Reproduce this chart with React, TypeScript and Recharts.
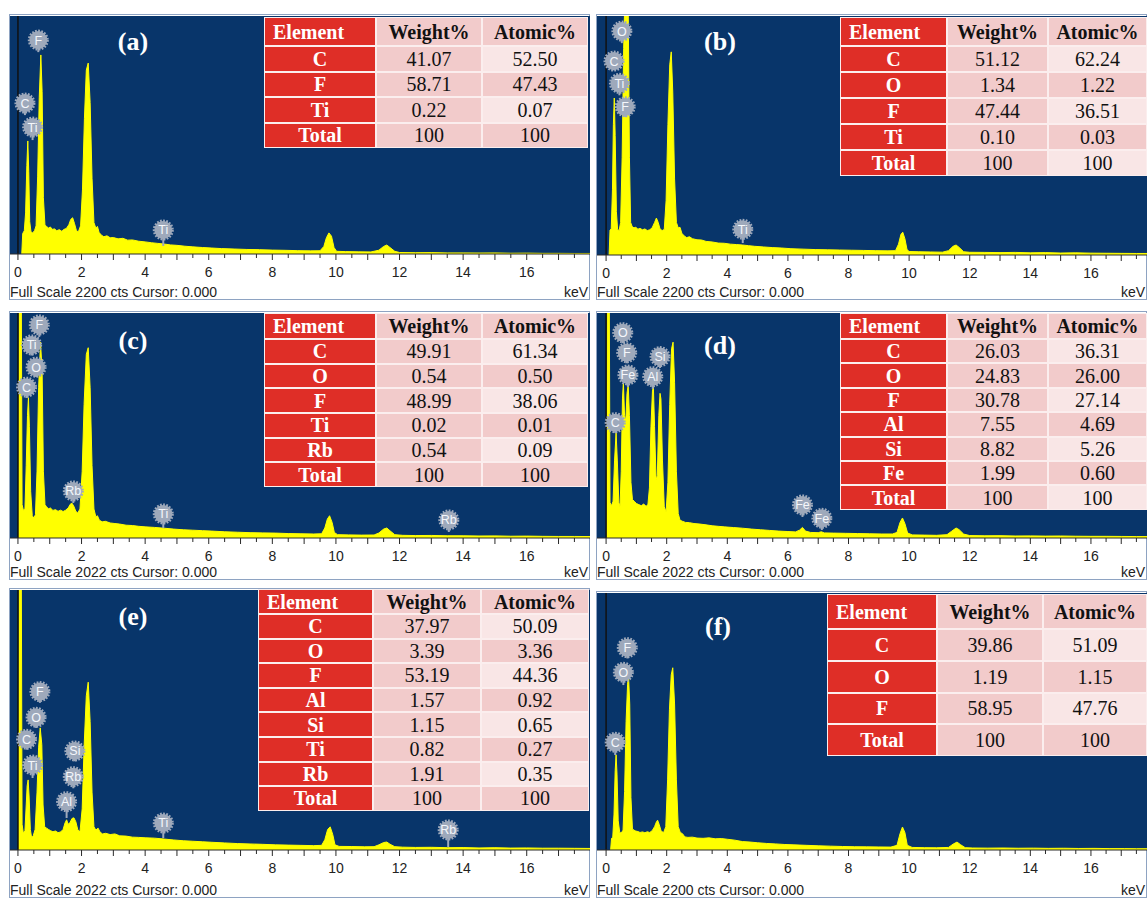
import React from "react";
import { AreaChart, Area, XAxis, YAxis, CartesianGrid, ReferenceLine, ReferenceDot } from "recharts";

// colours picked off the EDS screenshots
const PLOT_BG = "#08356a";
const SPECTRUM = "#ffff00";
const MARKER = "#9ea9bb";
const RED = "#df2e27";
const PINK = "#f2cbcb";
const PINK_LIGHT = "#f9e6e6";
const SANS = "'Liberation Sans', Arial, sans-serif";
const SERIF = "'Liberation Serif', 'Times New Roman', serif";

// energy axis (keV)
const MINOR_TICKS = [0, 0.5, 1, 1.5, 2, 2.5, 3, 3.5, 4, 4.5, 5, 5.5, 6, 6.5, 7, 7.5, 8, 8.5, 9, 9.5, 10, 10.5, 11, 11.5, 12, 12.5, 13, 13.5, 14, 14.5, 15, 15.5, 16, 16.5, 17, 17.5];
const TICK_LABELS = [0, 2, 4, 6, 8, 10, 12, 14, 16];

// spectra: [keV, counts]
const SPEC_A = [
  [0.12, 0], [0.15, 190], [0.2, 215], [0.24, 380], [0.28, 820], [0.31, 1045], [0.34, 760], [0.37, 300], [0.41, 205], [0.46, 195],
  [0.52, 215], [0.57, 260], [0.62, 720], [0.67, 1450], [0.72, 1840], [0.76, 1500], [0.8, 520], [0.85, 265], [0.9, 255], [0.96, 240],
  [1.02, 250], [1.08, 228], [1.15, 232], [1.22, 215], [1.3, 225], [1.38, 210], [1.45, 228], [1.52, 235], [1.6, 270], [1.66, 320],
  [1.72, 335], [1.78, 280], [1.84, 215], [1.9, 205], [1.97, 260], [2.03, 600], [2.09, 1250], [2.15, 1700], [2.21, 1765], [2.27, 1400],
  [2.33, 700], [2.39, 290], [2.45, 240], [2.5, 255], [2.55, 200], [2.62, 175], [2.7, 160], [2.8, 168], [2.9, 150], [3.0, 152],
  [3.15, 140], [3.3, 145], [3.45, 128], [3.6, 130], [3.8, 118], [4.0, 112], [4.2, 104], [4.4, 98], [4.6, 92], [4.8, 84],
  [5.0, 80], [5.25, 72], [5.5, 66], [5.8, 60], [6.1, 55], [6.4, 50], [6.8, 46], [7.2, 42], [7.6, 40], [8.0, 36],
  [8.4, 34], [8.8, 31], [9.2, 29], [9.5, 30], [9.62, 70], [9.7, 150], [9.78, 195], [9.86, 165], [9.94, 60], [10.02, 25],
  [10.3, 22], [10.7, 20], [11.1, 19], [11.35, 35], [11.5, 70], [11.6, 83], [11.7, 60], [11.85, 25], [12.0, 14], [12.5, 12],
  [13.0, 13], [13.5, 10], [14.0, 10], [14.5, 9], [15.0, 10], [15.5, 7], [16.0, 8], [16.5, 6], [17.0, 6], [17.5, 5], [17.99, 5],
];
const SPEC_B = [
  [0.1, 0], [0.13, 230], [0.17, 240], [0.21, 600], [0.24, 1200], [0.27, 1445], [0.3, 1100], [0.34, 400], [0.38, 235], [0.43, 225],
  [0.48, 300], [0.53, 900], [0.58, 1900], [0.63, 2500], [0.68, 2500], [0.73, 2300], [0.77, 900], [0.81, 300], [0.86, 262], [0.92, 250],
  [0.98, 255], [1.05, 238], [1.12, 245], [1.2, 232], [1.28, 240], [1.36, 225], [1.44, 232], [1.52, 250], [1.6, 300], [1.66, 340],
  [1.72, 300], [1.78, 240], [1.85, 225], [1.92, 235], [1.98, 500], [2.04, 1200], [2.1, 1750], [2.15, 1870], [2.2, 1500], [2.26, 700],
  [2.32, 300], [2.38, 250], [2.44, 255], [2.5, 200], [2.58, 175], [2.66, 160], [2.75, 168], [2.85, 150], [3.0, 140], [3.15, 138],
  [3.3, 125], [3.5, 120], [3.7, 110], [3.9, 108], [4.1, 100], [4.3, 96], [4.5, 92], [4.7, 86], [4.9, 80], [5.2, 74],
  [5.5, 68], [5.8, 64], [6.1, 58], [6.5, 54], [6.9, 50], [7.3, 48], [7.7, 46], [8.1, 44], [8.5, 42], [8.9, 40],
  [9.3, 38], [9.55, 40], [9.65, 100], [9.73, 190], [9.79, 210], [9.86, 150], [9.93, 50], [10.0, 32], [10.3, 30], [10.7, 28],
  [11.1, 26], [11.3, 40], [11.45, 80], [11.55, 92], [11.65, 70], [11.8, 30], [12.0, 25], [12.5, 24], [13.0, 22], [13.5, 24],
  [14.0, 20], [14.5, 22], [15.0, 18], [15.5, 20], [16.0, 17], [16.5, 16], [17.0, 15], [17.5, 14], [17.85, 14],
];
const SPEC_C = [
  [0.02, 0], [0.04, 2600], [0.1, 2600], [0.13, 300], [0.17, 250], [0.22, 260], [0.26, 650], [0.3, 1100], [0.33, 1260], [0.36, 1000],
  [0.4, 420], [0.45, 200], [0.5, 180], [0.55, 210], [0.6, 600], [0.65, 1350], [0.71, 1760], [0.76, 1500], [0.8, 600], [0.85, 300],
  [0.9, 280], [0.96, 262], [1.02, 270], [1.1, 248], [1.18, 255], [1.26, 240], [1.34, 250], [1.42, 238], [1.5, 250], [1.58, 270],
  [1.64, 300], [1.69, 315], [1.75, 290], [1.82, 240], [1.88, 225], [1.95, 260], [2.02, 600], [2.08, 1200], [2.15, 1650], [2.21, 1710],
  [2.27, 1350], [2.33, 650], [2.39, 260], [2.45, 190], [2.5, 200], [2.56, 160], [2.65, 145], [2.75, 150], [2.9, 135], [3.05, 130],
  [3.2, 125], [3.4, 115], [3.6, 112], [3.8, 105], [4.0, 100], [4.3, 95], [4.6, 88], [4.9, 80], [5.2, 74], [5.5, 70],
  [5.8, 66], [6.1, 62], [6.5, 56], [6.9, 52], [7.3, 48], [7.7, 46], [8.1, 44], [8.5, 40], [8.9, 38], [9.3, 36],
  [9.55, 38], [9.65, 90], [9.73, 170], [9.8, 200], [9.88, 140], [9.95, 50], [10.05, 30], [10.4, 28], [10.8, 26], [11.2, 27],
  [11.35, 45], [11.5, 80], [11.6, 90], [11.7, 65], [11.85, 30], [12.1, 24], [12.5, 22], [13.0, 23], [13.5, 20], [14.0, 20],
  [14.5, 18], [15.0, 19], [15.5, 16], [16.0, 17], [16.5, 15], [17.0, 14], [17.5, 14], [17.99, 13],
];
const SPEC_D = [
  [0.02, 0], [0.04, 2600], [0.1, 2600], [0.13, 320], [0.18, 290], [0.23, 330], [0.28, 700], [0.33, 945], [0.37, 700], [0.42, 320],
  [0.46, 280], [0.5, 600], [0.54, 1250], [0.57, 1395], [0.61, 1100], [0.65, 1050], [0.69, 1300], [0.73, 1375], [0.77, 1100], [0.82, 500],
  [0.87, 345], [0.93, 330], [1.0, 310], [1.08, 300], [1.16, 290], [1.24, 305], [1.32, 285], [1.38, 300], [1.43, 450], [1.48, 1000],
  [1.53, 1320], [1.56, 1360], [1.6, 1000], [1.65, 520], [1.69, 560], [1.74, 1100], [1.78, 1300], [1.81, 1250], [1.86, 700], [1.92, 280],
  [1.98, 235], [2.04, 500], [2.1, 1200], [2.16, 1700], [2.21, 1760], [2.26, 1400], [2.32, 600], [2.38, 220], [2.44, 160], [2.52, 150],
  [2.62, 140], [2.75, 138], [2.9, 130], [3.1, 125], [3.3, 118], [3.5, 110], [3.7, 105], [3.9, 100], [4.2, 94], [4.5, 88],
  [4.8, 80], [5.1, 74], [5.4, 68], [5.7, 62], [6.0, 58], [6.25, 55], [6.38, 70], [6.48, 95], [6.58, 62], [6.75, 50],
  [7.0, 48], [7.1, 56], [7.2, 46], [7.5, 44], [7.9, 42], [8.3, 40], [8.7, 38], [9.1, 36], [9.45, 36], [9.6, 50],
  [9.7, 140], [9.78, 180], [9.86, 130], [9.95, 45], [10.1, 28], [10.5, 26], [10.9, 24], [11.25, 30], [11.4, 60], [11.55, 90],
  [11.65, 75], [11.8, 35], [12.0, 22], [12.5, 20], [13.0, 21], [13.5, 18], [14.0, 19], [14.5, 17], [15.0, 18], [15.5, 16],
  [16.0, 15], [16.5, 15], [17.0, 14], [17.5, 13], [17.85, 13],
];
const SPEC_E = [
  [0.02, 0], [0.04, 2600], [0.1, 2600], [0.13, 200], [0.17, 130], [0.22, 150], [0.26, 350], [0.29, 500], [0.32, 545], [0.35, 420],
  [0.39, 160], [0.43, 95], [0.48, 110], [0.54, 160], [0.6, 450], [0.65, 800], [0.7, 950], [0.75, 820], [0.79, 350], [0.84, 180],
  [0.9, 170], [0.96, 160], [1.03, 150], [1.1, 142], [1.18, 148], [1.26, 135], [1.34, 140], [1.42, 160], [1.48, 210], [1.53, 235],
  [1.58, 200], [1.64, 215], [1.7, 245], [1.76, 250], [1.82, 220], [1.88, 160], [1.95, 140], [2.02, 320], [2.08, 800], [2.15, 1200],
  [2.21, 1305], [2.27, 1000], [2.33, 450], [2.39, 180], [2.45, 155], [2.52, 170], [2.58, 140], [2.66, 125], [2.76, 130], [2.9, 120],
  [3.05, 125], [3.2, 110], [3.4, 108], [3.6, 100], [3.8, 98], [4.0, 95], [4.3, 92], [4.6, 85], [4.9, 78], [5.2, 72],
  [5.5, 68], [5.8, 64], [6.1, 60], [6.5, 55], [6.9, 50], [7.3, 47], [7.7, 44], [8.1, 40], [8.5, 38], [8.9, 36],
  [9.3, 34], [9.55, 36], [9.65, 80], [9.74, 160], [9.82, 180], [9.9, 120], [9.97, 40], [10.1, 28], [10.5, 27], [10.9, 25],
  [11.2, 26], [11.35, 40], [11.5, 58], [11.6, 62], [11.7, 45], [11.85, 26], [12.1, 22], [12.5, 20], [13.0, 21], [13.5, 18],
  [14.0, 19], [14.5, 16], [15.0, 18], [15.5, 15], [16.0, 16], [16.5, 14], [17.0, 14], [17.5, 13], [17.99, 12],
];
const SPEC_F = [
  [0.15, 0], [0.18, 100], [0.22, 110], [0.26, 300], [0.3, 680], [0.33, 815], [0.36, 650], [0.4, 250], [0.45, 150], [0.5, 145],
  [0.56, 170], [0.61, 500], [0.66, 1100], [0.71, 1420], [0.74, 1500], [0.78, 1250], [0.82, 450], [0.87, 180], [0.92, 170], [0.98, 162],
  [1.05, 158], [1.12, 150], [1.2, 155], [1.28, 148], [1.36, 156], [1.44, 150], [1.52, 165], [1.6, 200], [1.66, 240], [1.7, 255],
  [1.75, 220], [1.82, 160], [1.9, 150], [1.97, 200], [2.03, 600], [2.09, 1200], [2.15, 1500], [2.2, 1560], [2.26, 1250], [2.32, 600],
  [2.38, 200], [2.45, 150], [2.52, 140], [2.6, 112], [2.7, 108], [2.85, 110], [3.0, 102], [3.2, 100], [3.4, 104], [3.6, 96],
  [3.8, 98], [4.0, 92], [4.25, 84], [4.5, 72], [4.75, 68], [5.0, 62], [5.3, 56], [5.6, 52], [5.9, 47], [6.2, 44],
  [6.6, 40], [7.0, 36], [7.4, 33], [7.8, 30], [8.2, 28], [8.6, 27], [9.0, 26], [9.4, 25], [9.6, 40], [9.7, 140],
  [9.78, 197], [9.86, 150], [9.94, 40], [10.1, 22], [10.5, 20], [10.9, 19], [11.3, 22], [11.45, 50], [11.58, 68], [11.7, 45],
  [11.85, 20], [12.1, 17], [12.6, 16], [13.1, 17], [13.6, 15], [14.1, 16], [14.6, 14], [15.1, 15], [15.6, 13], [16.1, 14],
  [16.6, 12], [17.1, 12], [17.5, 11], [17.85, 11],
];

// element markers: [label, keV, counts at badge centre, counts at stem tip]
const MARK_A = [["F", 0.64, 1977, 1866], ["C", 0.22, 1395, 1284], ["Ti", 0.46, 1173, 1053], ["Ti", 4.57, 222, 74]];
const MARK_B = [["O", 0.52, 2061, 1950], ["C", 0.26, 1785, 1700], ["Ti", 0.44, 1580, 1470], ["F", 0.63, 1364, 1270], ["Ti", 4.51, 237, 110]];
const MARK_C = [["F", 0.67, 1915, 1807], ["Ti", 0.43, 1735, 1640], ["O", 0.57, 1535, 1447], ["C", 0.27, 1355, 1258], ["Rb", 1.74, 423, 315], ["Ti", 4.57, 216, 90], ["Rb", 13.55, 162, 54]];
const MARK_D = [["O", 0.55, 1845, 1750], ["F", 0.68, 1665, 1570], ["Fe", 0.72, 1465, 1357], ["Si", 1.78, 1630, 1528], ["Al", 1.54, 1450, 1340], ["C", 0.3, 1036, 944], ["Fe", 6.48, 297, 189], ["Fe", 7.12, 177, 72]];
const MARK_E = [["F", 0.69, 1232, 1144], ["O", 0.57, 1032, 949], ["C", 0.27, 861, 780], ["Ti", 0.46, 661, 560], ["Si", 1.79, 770, 690], ["Rb", 1.74, 570, 480], ["Al", 1.53, 376, 249], ["Ti", 4.57, 210, 93], ["Rb", 13.53, 156, 23]];
const MARK_F = [["F", 0.7, 1732, 1640], ["O", 0.57, 1521, 1412], ["C", 0.3, 922, 813]];

// composition tables
const ELEM_A = ["C", "F", "Ti", "Total"];
const WT_A = ["41.07", "58.71", "0.22", "100"];
const AT_A = ["52.50", "47.43", "0.07", "100"];
const ELEM_B = ["C", "O", "F", "Ti", "Total"];
const WT_B = ["51.12", "1.34", "47.44", "0.10", "100"];
const AT_B = ["62.24", "1.22", "36.51", "0.03", "100"];
const ELEM_C = ["C", "O", "F", "Ti", "Rb", "Total"];
const WT_C = ["49.91", "0.54", "48.99", "0.02", "0.54", "100"];
const AT_C = ["61.34", "0.50", "38.06", "0.01", "0.09", "100"];
const ELEM_D = ["C", "O", "F", "Al", "Si", "Fe", "Total"];
const WT_D = ["26.03", "24.83", "30.78", "7.55", "8.82", "1.99", "100"];
const AT_D = ["36.31", "26.00", "27.14", "4.69", "5.26", "0.60", "100"];
const ELEM_E = ["C", "O", "F", "Al", "Si", "Ti", "Rb", "Total"];
const WT_E = ["37.97", "3.39", "53.19", "1.57", "1.15", "0.82", "1.91", "100"];
const AT_E = ["50.09", "3.36", "44.36", "0.92", "0.65", "0.27", "0.35", "100"];
const ELEM_F = ["C", "O", "F", "Total"];
const WT_F = ["39.86", "1.19", "58.95", "100"];
const AT_F = ["51.09", "1.15", "47.76", "100"];

const LEFT_X = [-0.25, 17.99];
const RIGHT_X = [-0.3, 17.85];

const PANELS = [
  { id: "a", left: 10, top: 16, width: 580, height: 284, axisH: 46, fsDy: 38, fullScale: 2200, xDomain: LEFT_X, spec: SPEC_A, marks: MARK_A, label: [133, 42],
    table: { left: 264, top: 17, cols: [112, 106, 106], headH: 29, rowH: 25.5, elems: ELEM_A, wt: WT_A, at: AT_A } },
  { id: "b", left: 597, top: 16, width: 550, height: 284, axisH: 45, fsDy: 37, fullScale: 2200, xDomain: RIGHT_X, spec: SPEC_B, marks: MARK_B, label: [720, 42],
    table: { left: 840, top: 17, cols: [107, 101, 99], headH: 29, rowH: 26, elems: ELEM_B, wt: WT_B, at: AT_B } },
  { id: "c", left: 10, top: 313, width: 580, height: 267, axisH: 42, fsDy: 34, fullScale: 2022, xDomain: LEFT_X, spec: SPEC_C, marks: MARK_C, label: [133, 341],
    table: { left: 264, top: 313, cols: [112, 106, 106], headH: 26, rowH: 24.7, elems: ELEM_C, wt: WT_C, at: AT_C } },
  { id: "d", left: 597, top: 313, width: 550, height: 267, axisH: 42, fsDy: 34, fullScale: 2022, xDomain: RIGHT_X, spec: SPEC_D, marks: MARK_D, label: [720, 346],
    table: { left: 840, top: 313, cols: [107, 101, 99], headH: 26, rowH: 24.4, elems: ELEM_D, wt: WT_D, at: AT_D } },
  { id: "e", left: 10, top: 590, width: 580, height: 308, axisH: 48, fsDy: 40, fullScale: 2022, xDomain: LEFT_X, spec: SPEC_E, marks: MARK_E, label: [133, 617],
    table: { left: 258, top: 589, cols: [115, 108, 108], headH: 25, rowH: 24.6, elems: ELEM_E, wt: WT_E, at: AT_E } },
  { id: "f", left: 597, top: 593, width: 550, height: 305, axisH: 48, fsDy: 40, fullScale: 2200, xDomain: RIGHT_X, spec: SPEC_F, marks: MARK_F, label: [718, 627],
    table: { left: 827, top: 594, cols: [110, 106, 104], headH: 35, rowH: 31.75, elems: ELEM_F, wt: WT_F, at: AT_F } },
];

const EnergyTick = ({ x, y, payload }: any) => {
  const v = payload.value;
  const major = Number.isInteger(v);
  return (
    <g>
      <line x1={x} x2={x} y1={y} y2={y + (major ? 6 : 4)} stroke="#2a2a2a" strokeWidth={1} />
      {TICK_LABELS.includes(v) && (
        <text x={x} y={y + 23} textAnchor="middle" fontSize={14} fill="#222" fontFamily={SANS}>{v}</text>
      )}
    </g>
  );
};

// grey serrated badge used by the EDS software for peak IDs
const badge = (label: string) => (props: any) => {
  const { cx, cy } = props;
  return (
    <g>
      <circle cx={cx} cy={cy} r={9} fill={MARKER} stroke={MARKER} strokeWidth={3} strokeDasharray="1.7 1.3" />
      <text x={cx} y={cy + 4.5} textAnchor="middle" fontSize={12.5} fill="#f5f7fb" fontFamily={SANS}>{label}</text>
    </g>
  );
};

function ElementTable({ t }: any) {
  const rows = [["Element", "Weight%", "Atomic%"], ...t.elems.map((e: string, i: number) => [e, t.wt[i], t.at[i]])];
  return (
    <div style={{
      position: "absolute", left: t.left, top: t.top, background: "#fbeeee", padding: 1,
      display: "grid", gap: 2,
      gridTemplateColumns: t.cols.map((c: number) => `${c - 2}px`).join(" "),
      gridTemplateRows: [t.headH - 2, ...t.elems.map(() => t.rowH - 2)].map((h: number) => `${h}px`).join(" "),
    }}>
      {rows.map((r: string[], ri: number) => r.map((cell, ci) => {
        const isHead = ri === 0;
        let bg = PINK;
        if (ci === 0) bg = RED;
        else if (!isHead && ci === 2 && ri % 2 === 1) bg = PINK_LIGHT;
        return (
          <div key={`${ri}-${ci}`} style={{
            background: bg, display: "flex", alignItems: "center",
            justifyContent: isHead && ci === 0 ? "flex-start" : "center",
            paddingLeft: isHead && ci === 0 ? 8 : 0,
            fontFamily: SERIF, fontSize: 20, lineHeight: 1,
            fontWeight: ci === 0 || isHead ? 700 : 400,
            color: ci === 0 ? "#fff" : "#111",
          }}>{cell}</div>
        );
      }))}
    </div>
  );
}

function Spectrum({ p }: any) {
  const data = p.spec.map(([e, c]: number[]) => ({ e, c }));
  const plotBottom = p.top + p.height - p.axisH;
  return (
    <>
      <div style={{ position: "absolute", left: p.left - 1, top: p.top - 2, width: p.width + 1, height: p.height + 2, border: "1px solid #8ea3c2", boxSizing: "border-box" }} />
      <div style={{ position: "absolute", left: p.left, top: p.top }}>
        <AreaChart width={p.width} height={p.height} data={data} margin={{ top: 0, right: 0, bottom: 0, left: 0 }}>
          <CartesianGrid horizontal={false} vertical={false} fill={PLOT_BG} stroke="none" />
          <XAxis dataKey="e" type="number" domain={p.xDomain} allowDataOverflow ticks={MINOR_TICKS} interval={0}
            tick={<EnergyTick />} tickLine={false} tickSize={0} tickMargin={0} height={p.axisH}
            axisLine={{ stroke: "#2a2a2a", strokeWidth: 1 }} />
          <YAxis hide width={0} type="number" domain={[0, p.fullScale]} allowDataOverflow />
          <ReferenceLine x={0} stroke="#111" strokeWidth={1.5} />
          <Area type="linear" dataKey="c" stroke={SPECTRUM} strokeWidth={1} fill={SPECTRUM} fillOpacity={1}
            dot={false} activeDot={false} isAnimationActive={false} />
          {p.marks.map((m: any, i: number) => (
            <ReferenceLine key={`s${i}`} segment={[{ x: m[1], y: m[2] }, { x: m[1], y: m[3] }]} stroke={MARKER} strokeWidth={2} />
          ))}
          {p.marks.map((m: any, i: number) => (
            <ReferenceDot key={`d${i}`} x={m[1]} y={m[2]} r={9} shape={badge(m[0])} />
          ))}
        </AreaChart>
      </div>
      <div style={{ position: "absolute", left: p.label[0] - 30, top: p.label[1] - 16, width: 60, textAlign: "center", fontFamily: SERIF, fontWeight: 700, fontSize: 26, lineHeight: "32px", color: "#fff" }}>
        ({p.id})
      </div>
      <div style={{ position: "absolute", left: p.left, top: plotBottom + p.fsDy - 9, fontFamily: SANS, fontSize: 14, lineHeight: "18px", color: "#222", whiteSpace: "nowrap" }}>
        Full Scale {p.fullScale} cts Cursor: 0.000
      </div>
      <div style={{ position: "absolute", left: p.left + p.width - 40, width: 38, textAlign: "right", top: plotBottom + p.fsDy - 9, fontFamily: SANS, fontSize: 14, lineHeight: "18px", color: "#222" }}>
        keV
      </div>
      <ElementTable t={p.table} />
    </>
  );
}

export default function App() {
  return (
    <div style={{ position: "absolute", left: 0, top: 0, width: 1147, height: 898, background: "#fff", overflow: "hidden" }}>
      {PANELS.map((p) => <Spectrum key={p.id} p={p} />)}
    </div>
  );
}
